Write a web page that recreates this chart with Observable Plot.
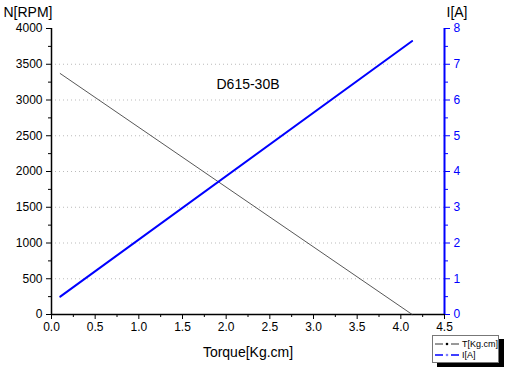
<!DOCTYPE html>
<html><head><meta charset="utf-8">
<script src="https://cdn.jsdelivr.net/npm/d3@7"></script>
<script src="https://cdn.jsdelivr.net/npm/@observablehq/plot@0.6"></script>
<style>
body{margin:0;background:#fff;font-family:Arial,"Liberation Sans",sans-serif;}
#wrap{position:relative;width:510px;height:375px;}
#legend{position:absolute;left:432px;top:335px;width:67px;height:28px;background:#fff;border:1px solid #777;box-shadow:5px 4px 0 #000;font-size:9px;box-sizing:border-box;}
#legend .row{position:absolute;left:2px;height:11px;display:flex;align-items:center;white-space:nowrap;}
#legend span{margin-left:3px;white-space:nowrap;}
</style></head><body><div id="wrap"></div>
<script>
// data
const torque = [0.1, 4.13];
const speed = [3370, 0];
const current = [0.5, 7.65];
// ticks
const xTicks = [0, 0.5, 1, 1.5, 2, 2.5, 3, 3.5, 4, 4.5];
const xMinor = [0.25, 0.75, 1.25, 1.75, 2.25, 2.75, 3.25, 3.75, 4.25];
const nTicks = [0, 500, 1000, 1500, 2000, 2500, 3000, 3500, 4000];
const nMinor = [250, 750, 1250, 1750, 2250, 2750, 3250, 3750];
const iTicks = [0, 1, 2, 3, 4, 5, 6, 7, 8];
const iMinor = [0.5, 1.5, 2.5, 3.5, 4.5, 5.5, 6.5, 7.5];
const gridN = [500, 1000, 1500, 2000, 2500, 3000, 3500];
const legendLabels = ["T[Kg.cm]", "I[A]"];
const nMax = 4000, iMax = 8, k = nMax / iMax;
const blue = "#0000ff";

const speedData = torque.map((t, i) => ({t, v: speed[i]}));
const currentData = torque.map((t, i) => ({t, v: current[i] * k}));

const chart = Plot.plot({
  width: 510, height: 375,
  marginLeft: 51, marginRight: 66, marginTop: 28, marginBottom: 61,
  x: {domain: [0, 4.5]},
  y: {domain: [0, nMax]},
  style: {fontFamily: "Arial, 'Liberation Sans', sans-serif", fontSize: "12px", background: "white", color: "black"},
  marks: [
    Plot.ruleY(gridN, {stroke: "#bbb", strokeDasharray: "1,3", strokeWidth: 1}),
    Plot.axisX(xTicks, {tickSize: 5, tickPadding: 3, tickFormat: d3.format(".1f"), label: null, fontSize: 12}),
    Plot.axisX(xMinor, {tickSize: 3, tickFormat: () => "", label: null}),
    Plot.axisY(nTicks, {anchor: "left", tickSize: 5, tickPadding: 4, tickFormat: d => String(d), label: null, fontSize: 12}),
    Plot.axisY(nMinor, {anchor: "left", tickSize: 3, tickFormat: () => "", label: null}),
    Plot.axisY(iTicks.map(d => d * k), {anchor: "right", tickSize: 5, tickPadding: 4, tickFormat: d => String(d / k), label: null, color: blue, fontSize: 12}),
    Plot.axisY(iMinor.map(d => d * k), {anchor: "right", tickSize: 3, tickFormat: () => "", label: null, color: blue}),
    Plot.ruleY([0], {stroke: "#000", strokeWidth: 1.5}),
    Plot.ruleX([0], {stroke: "#000", strokeWidth: 1.5}),
    Plot.ruleX([4.5], {stroke: blue, strokeWidth: 2}),
    Plot.line(speedData, {x: "t", y: "v", stroke: "#444", strokeWidth: 0.9}),
    Plot.line(currentData, {x: "t", y: "v", stroke: blue, strokeWidth: 2}),
    Plot.text(["N[RPM]"], {frameAnchor: "top-left", text: d => d, dx: -48, dy: -16, textAnchor: "start", lineAnchor: "middle", fontSize: 14}),
    Plot.text(["I[A]"], {frameAnchor: "top-right", text: d => d, dx: 2, dy: -16, textAnchor: "start", lineAnchor: "middle", fontSize: 14}),
    Plot.text(["Torque[Kg.cm]"], {frameAnchor: "bottom", text: d => d, dy: 38, lineAnchor: "middle", fontSize: 14}),
    Plot.text(["D615-30B"], {x: [2.25], y: [3220], text: ["D615-30B"], fontSize: 14})
  ]
});
const wrap = document.getElementById("wrap");
wrap.appendChild(chart);

const legend = document.createElement("div");
legend.id = "legend";
const colors = ["#333", blue];
legendLabels.forEach((lab, i) => {
  const row = document.createElement("div");
  row.className = "row";
  row.style.top = (2 + i * 11) + "px";
  row.innerHTML = `<svg width="24" height="8"><line x1="0" y1="4" x2="24" y2="4" stroke="${colors[i]}" stroke-width="${i ? 1.5 : 1}" stroke-dasharray="8,3,2,3"/><circle cx="12" cy="4" r="1.3" fill="${i ? '#8080ff' : '#000'}"/></svg><span>${lab}</span>`;
  legend.appendChild(row);
});
wrap.appendChild(legend);
</script></body></html>
